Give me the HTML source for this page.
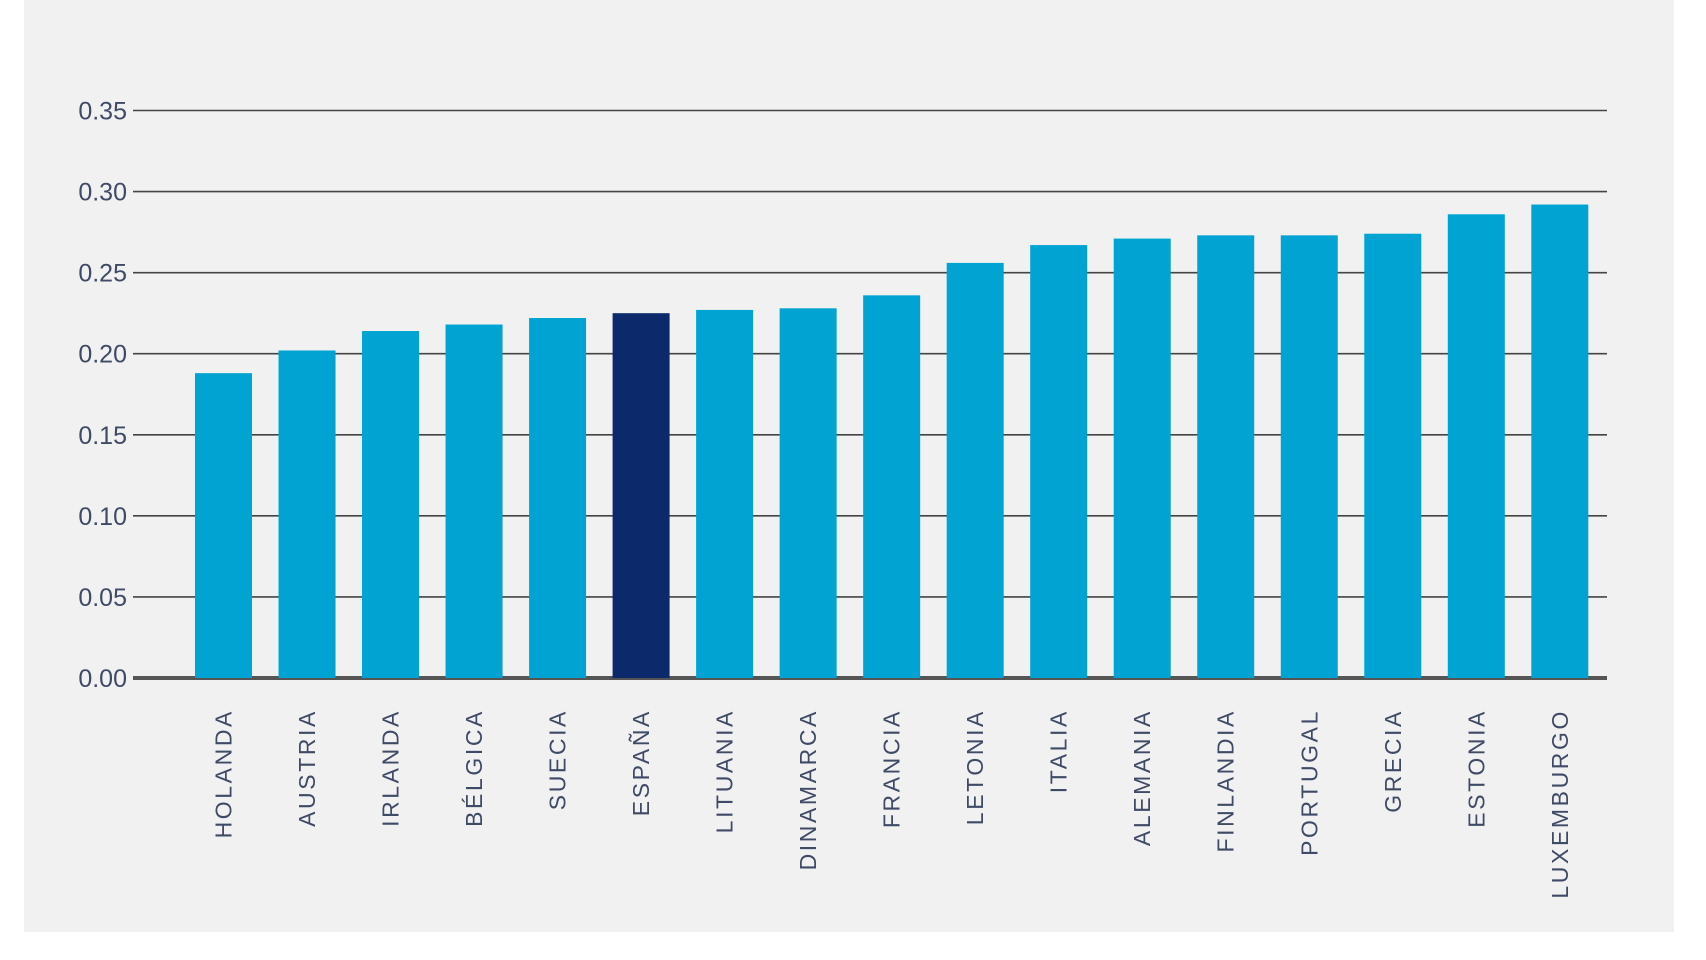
<!DOCTYPE html>
<html><head><meta charset="utf-8"><style>
html,body{margin:0;padding:0;background:#fff;width:1706px;height:960px;overflow:hidden}
svg{display:block}
text{font-family:"Liberation Sans",sans-serif}
</style></head><body>
<svg width="1706" height="960" id="chart">
<rect x="24" y="0" width="1650" height="932" fill="#f1f1f1"/>
<g id="grid"></g><g id="bars"></g><g id="labels"></g>
</svg>
<script>
const categories=["HOLANDA","AUSTRIA","IRLANDA","BÉLGICA","SUECIA","ESPAÑA","LITUANIA","DINAMARCA","FRANCIA","LETONIA","ITALIA","ALEMANIA","FINLANDIA","PORTUGAL","GRECIA","ESTONIA","LUXEMBURGO"];
const values=[0.188,0.202,0.214,0.218,0.222,0.225,0.227,0.228,0.236,0.256,0.267,0.271,0.273,0.273,0.274,0.286,0.292];
const highlight=["ESPAÑA"];
const ticks=[0,0.05,0.10,0.15,0.20,0.25,0.30,0.35];
const tickLabels=["0.00","0.05","0.10","0.15","0.20","0.25","0.30","0.35"];
const NS="http://www.w3.org/2000/svg";
const y0=678,y1=110.5,xL=133,xR=1607;
const yS=v=>y0-(v/0.35)*(y0-y1);
const pitch=83.52,bw=57,bx0=195;
const xS=i=>bx0+i*pitch;
const grid=document.getElementById('grid'),bars=document.getElementById('bars'),labels=document.getElementById('labels');
ticks.forEach((t,i)=>{
 const l=document.createElementNS(NS,'line');
 
 
 l.setAttribute('x1',xL);l.setAttribute('x2',xR);l.setAttribute('y1',yS(t));l.setAttribute('y2',yS(t));
 l.setAttribute('stroke',t===0?'#555':'#444');l.setAttribute('stroke-width',t===0?4:1.6);
 grid.appendChild(l);
 const tx=document.createElementNS(NS,'text');
 
 
 tx.setAttribute('x',127);tx.setAttribute('y',yS(t)+9);tx.setAttribute('text-anchor','end');
 tx.setAttribute('font-size','25');tx.setAttribute('fill','#3f4a66');
 tx.textContent=tickLabels[i];grid.appendChild(tx);
});
categories.forEach((c,i)=>{
 const r=document.createElementNS(NS,'rect');
 
 
 r.setAttribute('x',xS(i));r.setAttribute('width',bw);
 r.setAttribute('y',yS(values[i]));r.setAttribute('height',y0-yS(values[i]));
 r.setAttribute('fill',highlight.includes(c)?'#0c2a6b':'#00a3d1');
 bars.appendChild(r);
 const t=document.createElementNS(NS,'text');
 
 
 const cx=xS(i)+bw/2+8;
 t.setAttribute('transform','translate('+cx+',709) rotate(-90)');
 t.setAttribute('text-anchor','end');t.setAttribute('font-size','23');t.setAttribute('fill','#3f4a66');
 t.setAttribute('letter-spacing','2.6');
 t.textContent=c;labels.appendChild(t);
});
</script>
</body></html>
